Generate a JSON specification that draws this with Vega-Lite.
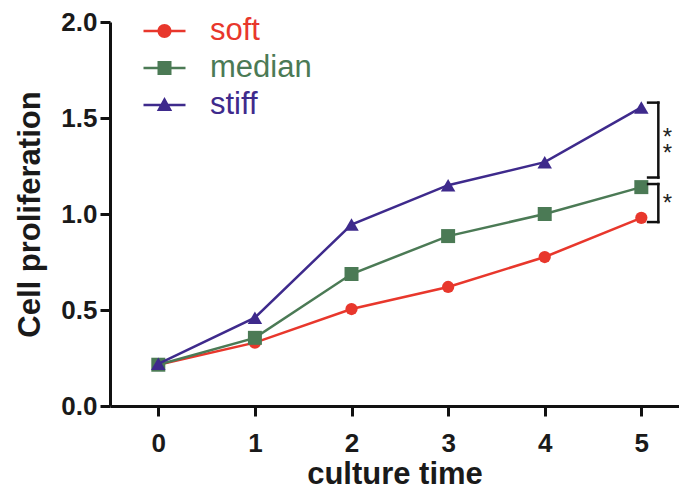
{
  "$schema": "https://vega.github.io/schema/vega-lite/v6.json",
  "width": 569,
  "height": 384,
  "autosize": {"type": "none"},
  "padding": {"left": 110, "top": 22, "right": 0, "bottom": 86},
  "background": "white",
  "config": {
    "view": {"stroke": null},
    "font": "Liberation Sans",
    "axis": {
      "domainColor": "#111111",
      "domainWidth": 3,
      "tickColor": "#111111",
      "tickWidth": 3,
      "tickSize": 10,
      "grid": false,
      "labelFont": "Liberation Sans",
      "labelFontSize": 26,
      "labelFontWeight": "bold",
      "labelColor": "#1a1a1a",
      "titleFont": "Liberation Sans",
      "titleFontSize": 31,
      "titleFontWeight": "bold",
      "titleColor": "#1a1a1a"
    }
  },
  "datasets": {
    "series": [
      {"series": "soft", "time": 0, "value": 0.215},
      {"series": "soft", "time": 1, "value": 0.33},
      {"series": "soft", "time": 2, "value": 0.505},
      {"series": "soft", "time": 3, "value": 0.62},
      {"series": "soft", "time": 4, "value": 0.776},
      {"series": "soft", "time": 5, "value": 0.98},
      {"series": "median", "time": 0, "value": 0.215},
      {"series": "median", "time": 1, "value": 0.355},
      {"series": "median", "time": 2, "value": 0.6875},
      {"series": "median", "time": 3, "value": 0.885},
      {"series": "median", "time": 4, "value": 1.0},
      {"series": "median", "time": 5, "value": 1.14},
      {"series": "stiff", "time": 0, "value": 0.22},
      {"series": "stiff", "time": 1, "value": 0.46},
      {"series": "stiff", "time": 2, "value": 0.945},
      {"series": "stiff", "time": 3, "value": 1.15},
      {"series": "stiff", "time": 4, "value": 1.27},
      {"series": "stiff", "time": 5, "value": 1.555}
    ],
    "brackets": [
      {"x": 5.07, "x2": 5.176, "y": 1.58, "y2": 1.58},
      {"x": 5.176, "x2": 5.176, "y": 1.58, "y2": 1.19},
      {"x": 5.07, "x2": 5.176, "y": 1.19, "y2": 1.19},
      {"x": 5.07, "x2": 5.176, "y": 1.156, "y2": 1.156},
      {"x": 5.176, "x2": 5.176, "y": 1.156, "y2": 0.958},
      {"x": 5.07, "x2": 5.176, "y": 0.958, "y2": 0.958}
    ],
    "stars": [
      {"x": 5.27, "y": 1.427, "t": "*\n*"},
      {"x": 5.27, "y": 1.083, "t": "*"}
    ]
  },
  "layer": [
    {
      "data": {"name": "series"},
      "transform": [{"filter": "datum.series == 'soft'"}],
      "mark": {"type": "line", "strokeWidth": 2.5, "color": "#e8372c"},
      "encoding": {
        "x": {
          "field": "time", "type": "quantitative",
          "scale": {"domain": [-0.5, 5.39], "nice": false, "zero": false},
          "axis": {"values": [0, 1, 2, 3, 4, 5], "format": "d", "title": "culture time", "labelPadding": 14, "titlePadding": 3}
        },
        "y": {
          "field": "value", "type": "quantitative",
          "scale": {"domain": [0, 2], "nice": false},
          "axis": {"values": [0, 0.5, 1, 1.5, 2], "format": ".1f", "title": "Cell proliferation", "labelPadding": 3, "titlePadding": 14}
        }
      }
    },
    {
      "data": {"name": "series"},
      "transform": [{"filter": "datum.series == 'soft'"}],
      "mark": {"type": "point", "shape": "circle", "filled": true, "opacity": 1, "size": 150, "color": "#e8372c"},
      "encoding": {
        "x": {"field": "time", "type": "quantitative"},
        "y": {"field": "value", "type": "quantitative"}
      }
    },
    {
      "data": {"name": "series"},
      "transform": [{"filter": "datum.series == 'median'"}],
      "mark": {"type": "line", "strokeWidth": 2.5, "color": "#4b7a55"},
      "encoding": {
        "x": {"field": "time", "type": "quantitative"},
        "y": {"field": "value", "type": "quantitative"}
      }
    },
    {
      "data": {"name": "series"},
      "transform": [{"filter": "datum.series == 'median'"}],
      "mark": {"type": "point", "shape": "square", "filled": true, "opacity": 1, "size": 196, "color": "#4b7a55"},
      "encoding": {
        "x": {"field": "time", "type": "quantitative"},
        "y": {"field": "value", "type": "quantitative"}
      }
    },
    {
      "data": {"name": "series"},
      "transform": [{"filter": "datum.series == 'stiff'"}],
      "mark": {"type": "line", "strokeWidth": 2.5, "color": "#3e2a8c"},
      "encoding": {
        "x": {"field": "time", "type": "quantitative"},
        "y": {"field": "value", "type": "quantitative"}
      }
    },
    {
      "data": {"name": "series"},
      "transform": [{"filter": "datum.series == 'stiff'"}],
      "mark": {"type": "point", "shape": "triangle-up", "filled": true, "opacity": 1, "size": 210, "color": "#3e2a8c"},
      "encoding": {
        "x": {"field": "time", "type": "quantitative"},
        "y": {"field": "value", "type": "quantitative"}
      }
    },
    {
      "data": {"name": "series"},
      "transform": [{"filter": "false"}],
      "mark": {"type": "point", "filled": true, "opacity": 1, "size": 196},
      "encoding": {
        "x": {"field": "time", "type": "quantitative"},
        "y": {"field": "value", "type": "quantitative"},
        "color": {
          "field": "series", "type": "nominal",
          "scale": {"domain": ["soft", "median", "stiff"], "range": ["#e8372c", "#4b7a55", "#3e2a8c"]},
          "legend": {
            "orient": "none", "legendX": 39, "legendY": -6.5, "title": null,
            "padding": 0, "rowPadding": 5,
            "labelFont": "Liberation Sans", "labelFontSize": 31, "labelOffset": 30,
            "symbolSize": 196, "symbolStrokeWidth": 0, "symbolOpacity": 1,
            "encode": {
              "labels": {
                "update": {
                  "fill": {"signal": "datum.label == 'soft' ? '#e8372c' : datum.label == 'median' ? '#4b7a55' : '#3e2a8c'"}
                }
              }
            }
          }
        },
        "shape": {
          "field": "series", "type": "nominal",
          "scale": {
            "domain": ["soft", "median", "stiff"],
            "range": [
              "M-3,-0.18H3V0.18H-3Z M-1,0A1,1 0 1,1 1,0A1,1 0 1,1 -1,0Z",
              "M-3,-0.18H3V0.18H-3Z M-1,-1H1V1H-1Z",
              "M-3,-0.18H3V0.18H-3Z M0,-1.15L1.1,0.85H-1.1Z"
            ]
          }
        }
      }
    },
    {
      "data": {"name": "brackets"},
      "mark": {"type": "rule", "color": "#111111", "strokeWidth": 2.5, "strokeCap": "square"},
      "encoding": {
        "x": {"field": "x", "type": "quantitative"},
        "x2": {"field": "x2"},
        "y": {"field": "y", "type": "quantitative"},
        "y2": {"field": "y2"}
      }
    },
    {
      "data": {"name": "stars"},
      "mark": {"type": "text", "font": "Liberation Sans", "fontSize": 24, "lineBreak": "\n", "lineHeight": 16, "color": "#222222", "baseline": "middle", "align": "center", "dy": 6},
      "encoding": {
        "x": {"field": "x", "type": "quantitative"},
        "y": {"field": "y", "type": "quantitative"},
        "text": {"field": "t"}
      }
    }
  ]
}
